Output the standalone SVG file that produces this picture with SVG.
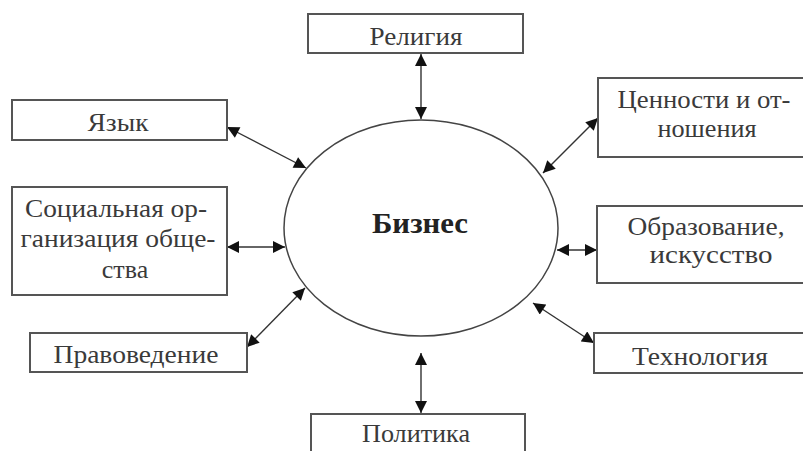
<svg xmlns="http://www.w3.org/2000/svg" width="803" height="451" viewBox="0 0 803 451">
<defs>
<marker id="ah" viewBox="0 0 10 10" refX="10" refY="5" markerWidth="13" markerHeight="12" markerUnits="userSpaceOnUse" orient="auto-start-reverse">
<path d="M0,0 L10,5 L0,10 z" fill="#111"/>
</marker>
</defs>
<style>
.box{fill:#fff;stroke:#555;stroke-width:2}
.t{font-family:"Liberation Serif","DejaVu Serif",serif;font-size:26px;fill:#3a3a3a;text-anchor:middle}
.b{font-family:"Liberation Serif","DejaVu Serif",serif;font-size:29px;font-weight:bold;fill:#222;text-anchor:middle}
.c{stroke:#333;stroke-width:1.4;fill:none;marker-start:url(#ah);marker-end:url(#ah)}
</style>
<rect width="803" height="451" fill="#fff"/>
<g id="connectors">
<line class="c" x1="421" y1="54" x2="421" y2="119"/>
<line class="c" x1="227" y1="127" x2="306" y2="168"/>
<line class="c" x1="598" y1="118" x2="543" y2="173"/>
<line class="c" x1="227" y1="247" x2="285" y2="247"/>
<line class="c" x1="557" y1="250" x2="597" y2="250"/>
<line class="c" x1="247" y1="347" x2="305" y2="288"/>
<line class="c" x1="533" y1="303" x2="594" y2="343"/>
<line class="c" x1="421" y1="353" x2="421" y2="413"/>
</g>
<g id="business">
<ellipse cx="421" cy="228" rx="137" ry="108" fill="none" stroke="#444" stroke-width="1.5"/>
<text class="b" x="420" y="233" textLength="96" lengthAdjust="spacingAndGlyphs">Бизнес</text>
</g>
<g id="religion">
<rect class="box" x="308" y="14" width="215" height="39"/>
<text class="t" x="416" y="45" textLength="93" lengthAdjust="spacingAndGlyphs">Религия</text>
</g>
<g id="language">
<rect class="box" x="12" y="100" width="215" height="40"/>
<text class="t" x="118" y="131" textLength="61" lengthAdjust="spacingAndGlyphs">Язык</text>
</g>
<g id="values">
<rect class="box" x="598" y="78" width="220" height="79"/>
<text class="t" x="704" y="108" textLength="173" lengthAdjust="spacingAndGlyphs">Ценности и от-</text>
<text class="t" x="707" y="137" textLength="99" lengthAdjust="spacingAndGlyphs">ношения</text>
</g>
<g id="social">
<rect class="box" x="12" y="187" width="215" height="108"/>
<text class="t" x="116" y="217" textLength="182" lengthAdjust="spacingAndGlyphs">Социальная ор-</text>
<text class="t" x="118" y="247" textLength="195" lengthAdjust="spacingAndGlyphs">ганизация обще-</text>
<text class="t" x="125" y="278">ства</text>
</g>
<g id="education">
<rect class="box" x="597" y="206" width="220" height="77"/>
<text class="t" x="706" y="235" textLength="157" lengthAdjust="spacingAndGlyphs">Образование,</text>
<text class="t" x="711" y="263" textLength="123" lengthAdjust="spacingAndGlyphs">искусство</text>
</g>
<g id="law">
<rect class="box" x="30" y="333" width="217" height="39"/>
<text class="t" x="136" y="363" textLength="165" lengthAdjust="spacingAndGlyphs">Правоведение</text>
</g>
<g id="technology">
<rect class="box" x="594" y="333" width="220" height="40"/>
<text class="t" x="700" y="365" textLength="136" lengthAdjust="spacingAndGlyphs">Технология</text>
</g>
<g id="politics">
<rect class="box" x="311" y="414" width="214" height="50"/>
<text class="t" x="416" y="442" textLength="108" lengthAdjust="spacingAndGlyphs">Политика</text>
</g>
</svg>
